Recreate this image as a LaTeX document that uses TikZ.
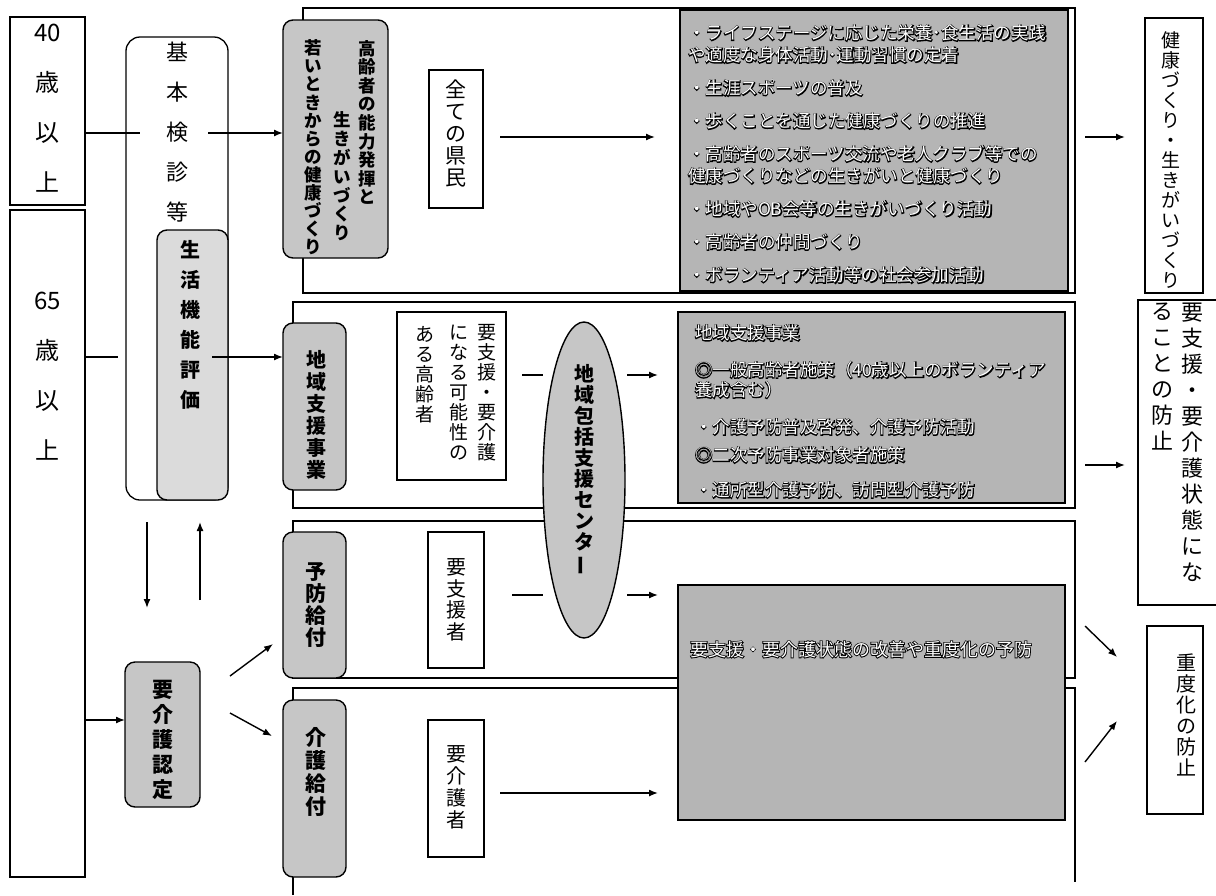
\documentclass[tikz,border=0pt]{standalone}
\usepackage{fontspec}
\usepackage{graphicx}
\setmainfont{Noto Sans CJK JP}
\newfontfamily\jpol[FakeBold=9]{Noto Sans CJK JP}
\usetikzlibrary{arrows.meta,shapes.geometric}
\newcommand\tate[2]{\vtop{\baselineskip=#1\relax\lineskiplimit=-\maxdimen\lineskip=0pt\tatestep#2\relax}}
\def\tatestep#1{\ifx\relax#1\else\hbox to 1em{\hss#1\hss}\expandafter\tatestep\fi}
\newcommand\tbar{\rotatebox[origin=c]{90}{ー}}
\newcommand\fs[2]{\fontsize{#1}{#2}\selectfont}
\newcommand\listA{・ライフステージに応じた栄養･食生活の実践\\
や適度な身体活動･運動習慣の定着\\[11pt]
・生涯スポーツの普及\\[11pt]
・歩くことを通じた健康づくりの推進\\[11pt]
・高齢者のスポーツ交流や老人クラブ等での\\
健康づくりなどの生きがいと健康づくり\\[11pt]
・地域やOB会等の生きがいづくり活動\\[11pt]
・高齢者の仲間づくり\\[11pt]
・ボランティア活動等の社会参加活動}
\newcommand\listB{地域支援事業\\[17pt]
◎一般高齢者施策（40歳以上のボランティア\\
養成含む）\\[17pt]
・介護予防普及啓発、介護予防活動\\[8pt]
◎二次予防事業対象者施策\\[15pt]
・通所型介護予防、訪問型介護予防}
\newcommand\listC{要支援・要介護状態の改善や重度化の予防}
\begin{document}
\begin{tikzpicture}[x=1pt,y=-1pt,
  box/.style={draw, line width=1.3pt, fill=white, inner sep=0pt, outer sep=0pt},
  gbox/.style={draw, line width=1.4pt, fill=gray!45, rounded corners=10pt, inner sep=0pt, outer sep=0pt},
  lbox/.style={draw, line width=1.8pt, fill=gray!58, inner sep=0pt, outer sep=0pt},
  frm/.style={draw, line width=1.6pt, inner sep=0pt, outer sep=0pt},
  txt/.style={inner sep=0pt, outer sep=0pt},
  gtxt/.style={txt, font=\bfseries},
  ltxt/.style={inner sep=0pt, outer sep=0pt, text=white, align=left, anchor=north west},
  lshadow/.style={ltxt, text=black},
  arr/.style={-{Latex[length=9pt,width=7pt]}, line width=1.4pt},
  ln/.style={line width=1.4pt}]
\useasboundingbox (0,0) rectangle (1216,895);
\fill[white] (0,0) rectangle (1216,895);
% frames
\node[frm, minimum width=772pt, minimum height=285pt] (f1) at (689,150.5) {};
\node[frm, minimum width=782pt, minimum height=206pt] (f2) at (684,405) {};
\node[frm, minimum width=782pt, minimum height=157pt] (f3) at (684,599.5) {};
\draw[line width=1.6pt] (293,895) -- (293,688) -- (1075,688) -- (1075,882);
% left column
\node[box, minimum width=75pt, minimum height=188pt] (a40) at (47.5,111) {};
\node[txt, align=center, font=\fs{24}{50}] (t40) at (47.5,108) {40\\歳\\以\\上};
\node[box, minimum width=75pt, minimum height=667pt] (a65) at (47.5,543.5) {};
\node[txt, align=center, font=\fs{24}{50}] (t65) at (47.5,376) {65\\歳\\以\\上};
\node[box, rounded corners=14pt, minimum width=102pt, minimum height=463pt] (kihon) at (177,268.5) {};
\node[txt, font=\fs{22}{22}] (tkihon) at (177,132) {\tate{40pt}{基本検診等}};
\node[gbox, fill=gray!28, minimum width=71pt, minimum height=270pt] (seik) at (192.5,365) {};
\node[gtxt, font=\bfseries\fs{20}{20}] (tseik) at (190,325) {\tate{30pt}{生活機能評価}};
\node[gbox, minimum width=75pt, minimum height=145pt] (nintei) at (162.5,734.5) {};
\node[gtxt, font=\bfseries\fs{21}{21}] (tnintei) at (163,740) {\tate{25pt}{要介護認定}};
% row 1
\node[gbox, minimum width=105pt, minimum height=238pt] (kourei) at (335.5,139) {};
\node[gtxt, font=\bfseries\fs{17.5}{17.5}] (k1) at (367,122.5) {\tate{18.6pt}{高齢者の能力発揮と}};
\node[gtxt, font=\bfseries\fs{17.5}{17.5}] (k2) at (342,176.5) {\tate{18.8pt}{生きがいづくり}};
\node[gtxt, font=\bfseries\fs{17.5}{17.5}] (k3) at (313,147.5) {\tate{18.1pt}{若いときからの健康づくり}};
\node[box, minimum width=54pt, minimum height=138pt] (zenken) at (456,139) {};
\node[txt, font=\fs{21}{21}] (tzenken) at (456,133.5) {\tate{22pt}{全ての県民}};
\node[lbox, minimum width=388pt, minimum height=281pt] (list1) at (874,150.5) {};
\node[lshadow, font=\jpol\fs{17.5}{22}] (slist1) at (688,25) {\listA};
\node[ltxt, font=\fs{17.5}{22}] (tlist1) at (688,25) {\listA};
% row 2
\node[gbox, minimum width=63pt, minimum height=167pt] (chiiki) at (314.5,406.5) {};
\node[gtxt, font=\bfseries\fs{20}{20}] (tchiiki) at (316,415) {\tate{22pt}{地域支援事業}};
\node[box, minimum width=109pt, minimum height=168pt] (kanou) at (451.5,396) {};
\node[txt, font=\fs{19}{19}] (c1) at (487,393) {\tate{20pt}{要支援・要介護}};
\node[txt, font=\fs{19}{19}] (c2) at (459,393) {\tate{20pt}{になる可能性の}};
\node[txt, font=\fs{19}{19}] (c3) at (425,375) {\tate{20pt}{ある高齢者}};
\node[lbox, minimum width=387pt, minimum height=191pt] (list2) at (871.5,407.5) {};
\node[lshadow, font=\jpol\fs{17.5}{20}] (slist2) at (695,325) {\listB};
\node[ltxt, font=\fs{17.5}{20}] (tlist2) at (695,325) {\listB};
\node[draw, ellipse, line width=1.4pt, fill=gray!45, minimum width=82pt, minimum height=316pt, inner sep=0pt, outer sep=0pt] (ell) at (584,480) {};
\node[gtxt, font=\bfseries\fs{20}{20}] (tell) at (584,470) {\tate{21pt}{地域包括支援センタ\tbar}};
% row 3
\node[gbox, minimum width=63pt, minimum height=146pt] (yobou) at (314.5,605) {};
\node[gtxt, font=\bfseries\fs{21}{21}] (tyobou) at (316,605) {\tate{22pt}{予防給付}};
\node[box, minimum width=56pt, minimum height=136pt] (youshien) at (456,600) {};
\node[txt, font=\fs{20}{20}] (tyoushien) at (456,600) {\tate{21.5pt}{要支援者}};
\node[lbox, minimum width=387pt, minimum height=235pt] (list3) at (871.5,702.5) {};
\node[lshadow, font=\jpol\fs{18}{22}] (slist3) at (690,641) {\listC};
\node[ltxt, font=\fs{18}{22}] (tlist3) at (690,641) {\listC};
% row 4
\node[gbox, minimum width=63pt, minimum height=177pt] (kaigo) at (314.5,788.5) {};
\node[gtxt, font=\bfseries\fs{21}{21}] (tkaigo) at (316,772) {\tate{23pt}{介護給付}};
\node[box, minimum width=56pt, minimum height=137pt] (youkaigo) at (456,788.5) {};
\node[txt, font=\fs{20}{20}] (tyoukaigo) at (456,787) {\tate{22pt}{要介護者}};
% right column
\node[box, minimum width=58pt, minimum height=275pt] (r1) at (1174,155.5) {};
\node[txt, font=\fs{19}{19}] (tr1) at (1171,160) {\tate{20pt}{健康づくり・生きがいづくり}};
\node[box, minimum width=82pt, minimum height=305pt] (r2) at (1179,452.5) {};
\node[txt, font=\fs{22}{22}] (tr2a) at (1192,442) {\tate{26pt}{要支援・要介護状態にな}};
\node[txt, font=\fs{22}{22}] (tr2b) at (1162,377) {\tate{26pt}{ることの防止}};
\node[box, minimum width=56pt, minimum height=188pt] (r3) at (1175,720) {};
\node[txt, font=\fs{20}{20}] (tr3) at (1186,714.5) {\tate{21pt}{重度化の防止}};
% connectors
\coordinate (k40in) at (140,133);
\coordinate (k40out) at (208,133);
\coordinate (k65in) at (118,357);
\coordinate (s65out) at (212,357);
\draw[ln] (a40.east |- k40in) -- (k40in);
\draw[arr] (k40out) -- (kourei.west |- k40out);
\draw[ln] (a65.east |- k65in) -- (k65in);
\draw[arr] (s65out) -- (chiiki.west |- s65out);
\draw[arr] (a65.east |- 0,720) -- (nintei.west |- 0,720);
\draw[arr, shorten <=22pt, shorten >=54pt] (kihon.south -| 147,0) -- (nintei.north -| 147,0);
\draw[arr, shorten <=62pt, shorten >=22pt] (nintei.north -| 200,0) -- (kihon.south -| 200,0);
\coordinate (n1s) at (230,676); \coordinate (n1e) at (273,644);
\coordinate (n2s) at (230,713); \coordinate (n2e) at (272,736);
\draw[arr] (n1s) -- (n1e);
\draw[arr] (n2s) -- (n2e);
\draw[arr, shorten <=17pt, shorten >=25pt] (zenken.east |- 0,137) -- (list1.west |- 0,137);
\draw[ln, shorten <=16pt] (kanou.east |- 0,375) -- (ell.west |- 0,375);
\draw[arr, shorten <=2pt, shorten >=20pt] (ell.east |- 0,375) -- (list2.west |- 0,375);
\draw[ln, shorten <=28pt] (youshien.east |- 0,595) -- (ell.west |- 0,595);
\draw[arr, shorten <=2pt, shorten >=20pt] (ell.east |- 0,595) -- (list3.west |- 0,595);
\draw[arr, shorten <=16pt, shorten >=20pt] (youkaigo.east |- 0,793) -- (list3.west |- 0,793);
\draw[arr, shorten <=10pt, shorten >=20pt] (f1.east |- 0,137) -- (r1.west |- 0,137);
\draw[arr, shorten <=10pt, shorten >=13pt] (f2.east |- 0,465) -- (r2.west |- 0,465);
\coordinate (d1s) at (1085,626); \coordinate (d1e) at (1117,657);
\coordinate (d2s) at (1085,762); \coordinate (d2e) at (1117,721);
\draw[arr] (d1s) -- (d1e);
\draw[arr] (d2s) -- (d2e);
\end{tikzpicture}
\end{document}
